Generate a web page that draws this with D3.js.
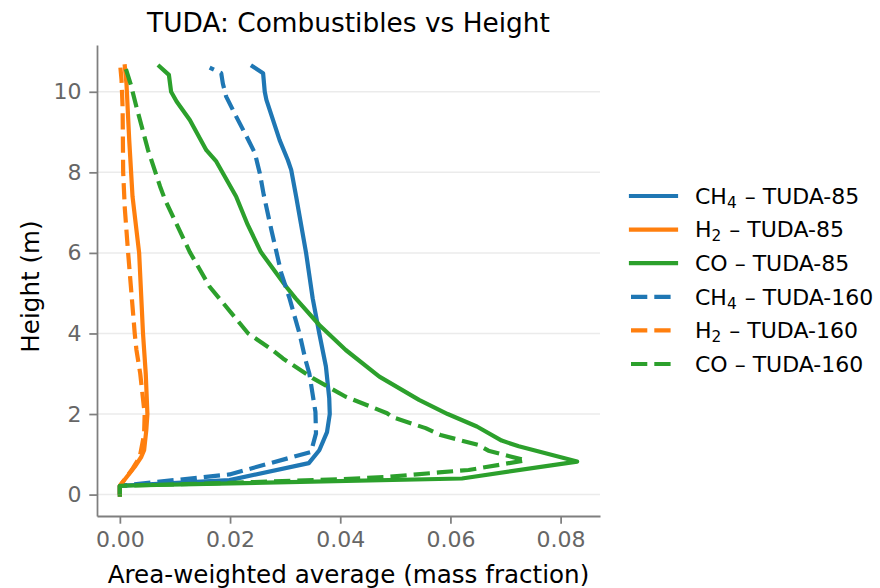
<!DOCTYPE html>
<html>
<head>
<meta charset="utf-8">
<title>TUDA: Combustibles vs Height</title>
<script src="https://d3js.org/d3.v7.min.js"></script>
<style>
body { margin: 0; background: #fff; }
svg text { font-family: "DejaVu Sans", sans-serif; }
.axis .tick text { fill: #666; font-size: 22px; }
.axis .tick line { stroke: #7f7f7f; stroke-width: 1.76; }
.axis path.domain { stroke: #7f7f7f; stroke-width: 1.76; }
.grid line { stroke: #ebebeb; stroke-width: 1.5; }
.series { fill: none; stroke-width: 4.2; stroke-linejoin: round; }
</style>
</head>
<body>
<svg id="chart" width="880" height="588"></svg>
<script>

// area-weighted averages (mass fraction) vs height (m)
// each point is [mass fraction, height]
var ch4_85 = [[0,0],[0,0.22],[0.0199,0.36],[0.0343,0.78],[0.0362,1.1],[0.0376,1.55],[0.0381,2.0],
  [0.0380,2.4],[0.0374,3.18],[0.0362,4.0],[0.0350,4.87],[0.0338,6.0],[0.0320,7.4],[0.0311,8.06],
  [0.0305,8.3],[0.0290,8.8],[0.0266,9.8],[0.0263,10.0],[0.0260,10.46],[0.0241,10.63]];
var h2_85 = [[0,0],[0,0.22],[0.0027,0.69],[0.0039,0.94],[0.0044,1.1],[0.0048,1.6],[0.0050,2.0],
  [0.0047,3.0],[0.0044,3.6],[0.0042,4.0],[0.0035,6.0],[0.0023,7.4],[0.0017,8.8],[0.0012,10.2],
  [0.0009,10.63]];
var co_85 = [[0,0],[0,0.22],[0.0621,0.40],[0.0830,0.82],[0.0724,1.2],[0.0693,1.34],[0.0648,1.69],
  [0.0595,2.0],[0.0543,2.35],[0.0471,2.93],[0.0410,3.59],[0.0362,4.21],[0.0319,4.87],[0.0302,5.16],
  [0.0256,6.02],[0.0232,6.7],[0.0211,7.4],[0.0175,8.27],[0.0157,8.55],[0.0127,9.3],[0.0103,9.76],
  [0.0093,10.0],[0.0089,10.42],[0.0072,10.63]];
var ch4_160 = [[0,0],[0,0.22],[0.0199,0.5],[0.0347,1.06],[0.0356,1.52],[0.0355,2.05],[0.0344,3.0],
  [0.0337,3.34],[0.0326,4.0],[0.0308,4.87],[0.0293,5.5],[0.0275,6.57],[0.0261,7.45],[0.0254,7.98],
  [0.0245,8.48],[0.0230,8.89],[0.0211,9.39],[0.0193,9.88],[0.0187,10.2],[0.0184,10.46],[0.0163,10.6]];
var h2_160 = [[0,0],[0,0.22],[0.0022,0.62],[0.0036,0.93],[0.0044,1.5],[0.0045,2.0],[0.0037,3.0],
  [0.0030,3.6],[0.0027,4.0],[0.0015,6.0],[0.0009,7.1],[0.0006,8.0],[0.0005,9.6],[0.0003,10.3],
  [0.0001,10.6]];
var co_160 = [[0,0],[0,0.22],[0.0200,0.29],[0.0398,0.38],[0.0488,0.44],[0.0579,0.55],[0.0633,0.61],
  [0.0736,0.85],[0.0669,1.09],[0.0651,1.23],[0.0582,1.48],[0.0555,1.65],[0.0495,1.92],[0.0485,2.02],
  [0.0410,2.43],[0.0350,2.89],[0.0296,3.38],[0.0277,3.59],[0.0233,4.0],[0.0163,5.16],[0.0127,6.02],
  [0.0082,7.32],[0.0073,7.65],[0.0051,8.56],[0.0030,9.63],[0.0020,10.17],[0.0011,10.56]];

var species = ["CH4", "H2", "CO"];
var cases = ["TUDA-85", "TUDA-160"];
var colors = ["#1f77b4", "#ff7f0e", "#2ca02c"];
var xTicks = [0, 0.02, 0.04, 0.06, 0.08];
var yTicks = [0, 2, 4, 6, 8, 10];

var series = [
  {sp: 0, cs: 0, values: ch4_85},
  {sp: 1, cs: 0, values: h2_85},
  {sp: 2, cs: 0, values: co_85},
  {sp: 0, cs: 1, values: ch4_160},
  {sp: 1, cs: 1, values: h2_160},
  {sp: 2, cs: 1, values: co_160}
];

var margin = {top: 45, right: 280, bottom: 72, left: 97},
    width = 880 - margin.left - margin.right,
    height = 588 - margin.top - margin.bottom;

var svg = d3.select("#chart");
var g = svg.append("g")
    .attr("transform", "translate(" + margin.left + "," + margin.top + ")");

// matplotlib style 5% padding around the data
var all = d3.merge(series.map(function(s) { return s.values; }));
var xe = d3.extent(all, function(d) { return d[0]; }),
    ye = d3.extent(all, function(d) { return d[1]; });
var xp = (xe[1] - xe[0]) * 0.05, yp = (ye[1] - ye[0]) * 0.05;

var x = d3.scaleLinear().domain([xe[0] - xp, xe[1] + xp]).range([0, width]);
var y = d3.scaleLinear().domain([ye[0] - yp, ye[1] + yp]).range([height, 0]);

// horizontal grid
g.append("g").attr("class", "grid")
  .selectAll("line")
  .data(yTicks)
  .enter().append("line")
    .attr("x1", 0).attr("x2", width)
    .attr("y1", function(d) { return y(d); })
    .attr("y2", function(d) { return y(d); });

// axes
g.append("g").attr("class", "axis")
  .attr("transform", "translate(0," + height + ")")
  .call(d3.axisBottom(x).tickValues(xTicks).tickFormat(d3.format(".2f"))
    .tickSizeInner(7.7).tickSizeOuter(0).tickPadding(7.7));

g.append("g").attr("class", "axis")
  .call(d3.axisLeft(y).tickValues(yTicks).tickFormat(d3.format("d"))
    .tickSizeInner(7.7).tickSizeOuter(0).tickPadding(7.7));

// lines
var line = d3.line()
  .x(function(d) { return x(d[0]); })
  .y(function(d) { return y(d[1]); });

g.selectAll(".series")
  .data(series)
  .enter().append("path")
    .attr("class", "series")
    .attr("d", function(d) { return line(d.values); })
    .style("stroke", function(d) { return colors[d.sp]; })
    .style("stroke-linecap", function(d) { return d.cs ? "butt" : "square"; })
    .style("stroke-dasharray", function(d) { return d.cs ? "16.3,7" : null; });

// title and axis labels
svg.append("text")
  .attr("x", margin.left + width / 2).attr("y", 32)
  .style("text-anchor", "middle").style("font-size", "26.4px").style("fill", "#000")
  .text("TUDA: Combustibles vs Height");

svg.append("text")
  .attr("x", margin.left + width / 2).attr("y", 583)
  .style("text-anchor", "middle").style("font-size", "24.6px").style("fill", "#000")
  .text("Area-weighted average (mass fraction)");

svg.append("text")
  .attr("transform", "translate(39," + (margin.top + height / 2 + 6) + ") rotate(-90)")
  .style("text-anchor", "middle").style("font-size", "24.6px").style("fill", "#000")
  .text("Height (m)");

// legend
var legend = svg.append("g").attr("transform", "translate(631,196)");
var rows = legend.selectAll("g")
  .data(series)
  .enter().append("g")
    .attr("transform", function(d, i) { return "translate(0," + (i * 33.6) + ")"; });

rows.append("line")
  .attr("class", "series")
  .attr("x1", 0).attr("x2", 45)
  .style("stroke", function(d) { return colors[d.sp]; })
  .style("stroke-linecap", function(d) { return d.cs ? "butt" : "square"; })
  .style("stroke-dasharray", function(d) { return d.cs ? "16.3,7" : null; });

rows.each(function(d) {
  var t = d3.select(this).append("text")
    .attr("x", 64).attr("y", 7.8)
    .style("font-size", "22px").style("fill", "#000");
  var name = species[d.sp];
  var m = name.match(/^([A-Z]+?)(\d*)$/);
  t.append("tspan").text(m[1]);
  if (m[2]) {
    t.append("tspan").attr("dy", 4).style("font-size", "15.4px").text(m[2]);
    t.append("tspan").attr("dy", -4).attr("dx", 1).text(" \u2013 " + cases[d.cs]);
  } else {
    t.append("tspan").text(" \u2013 " + cases[d.cs]);
  }
});

</script>
</body>
</html>
